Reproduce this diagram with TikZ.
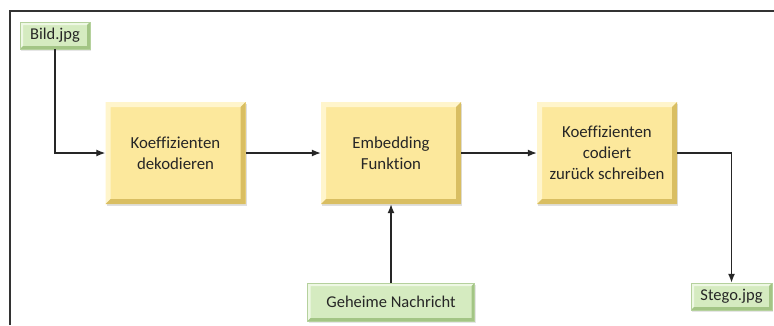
\documentclass[tikz,border=0pt]{standalone}
\usepackage{fontspec}
\setmainfont{Carlito}[Ligatures=NoCommon]
\usetikzlibrary{arrows.meta,shadows}
\definecolor{yfill}{HTML}{FCE89C}
\definecolor{ylight}{HTML}{FFF5CC}
\definecolor{ydark}{HTML}{D9BE62}
\definecolor{gfill}{HTML}{D5EBC0}
\definecolor{glight}{HTML}{EEF8E4}
\definecolor{gdark}{HTML}{A3C585}
\definecolor{lineclr}{HTML}{262626}
\newcommand\mybevel[3]{%
 \fill[#1] (path picture bounding box.south west) -- (path picture bounding box.north west) -- (path picture bounding box.north east) -- ([xshift=-#3,yshift=-#3]path picture bounding box.north east) -- ([xshift=#3,yshift=-#3]path picture bounding box.north west) -- ([xshift=#3,yshift=#3]path picture bounding box.south west) -- cycle;
 \fill[#2] (path picture bounding box.south west) -- (path picture bounding box.south east) -- (path picture bounding box.north east) -- ([xshift=-#3,yshift=-#3]path picture bounding box.north east) -- ([xshift=-#3,yshift=#3]path picture bounding box.south east) -- ([xshift=#3,yshift=#3]path picture bounding box.south west) -- cycle;}
\tikzset{
 procbox/.style={fill=yfill, minimum width=140pt, minimum height=102pt, inner sep=0pt,
   align=center, text=black!85, font=\fontsize{16.8}{21}\selectfont,
   path picture={\mybevel{ylight}{ydark}{5pt}},
   drop shadow={shadow xshift=1pt, shadow yshift=-2pt, opacity=0.25}},
 iobox/.style={fill=gfill, draw=gdark!80, line width=0.5pt, inner sep=0pt, text=black!85,
   font=\fontsize{16.5}{19}\selectfont,
   path picture={\mybevel{glight}{gdark}{3pt}},
   drop shadow={shadow xshift=1pt, shadow yshift=-1.5pt, opacity=0.2}},
 arr/.style={-{Latex[length=9pt,width=7pt]}, line width=1.3pt, draw=lineclr},
}
\begin{document}
\begin{tikzpicture}[x=1pt,y=-1pt]
\useasboundingbox (0,0) rectangle (774,325);
\draw[line width=1.1pt, draw=black!80] (10,325) -- (10,11) -- (774,11);

\node[iobox, minimum width=70pt, minimum height=27pt] (bild) at (55,35.5) {Bild.jpg};
\node[procbox] (k1) at (175.5,153) {Koeffizienten\\dekodieren};
\node[procbox] (emb) at (391,153) {Embedding\\Funktion};
\node[procbox] (k2) at (607,153) {Koeffizienten\\codiert\\zurück schreiben};
\node[iobox, minimum width=167pt, minimum height=38pt] (geh) at (391,302) {Geheime Nachricht};
\node[iobox, minimum width=81pt, minimum height=27pt] (stego) at (731.5,296.5) {Stego.jpg};

\draw[arr] (bild.south) |- (k1.west);
\draw[arr] (k1.east) -- (emb.west);
\draw[arr] (emb.east) -- (k2.west);
\draw[arr] (k2.east) -| (stego.north);
\draw[arr] (geh.north) -- (emb.south);
\end{tikzpicture}
\end{document}
